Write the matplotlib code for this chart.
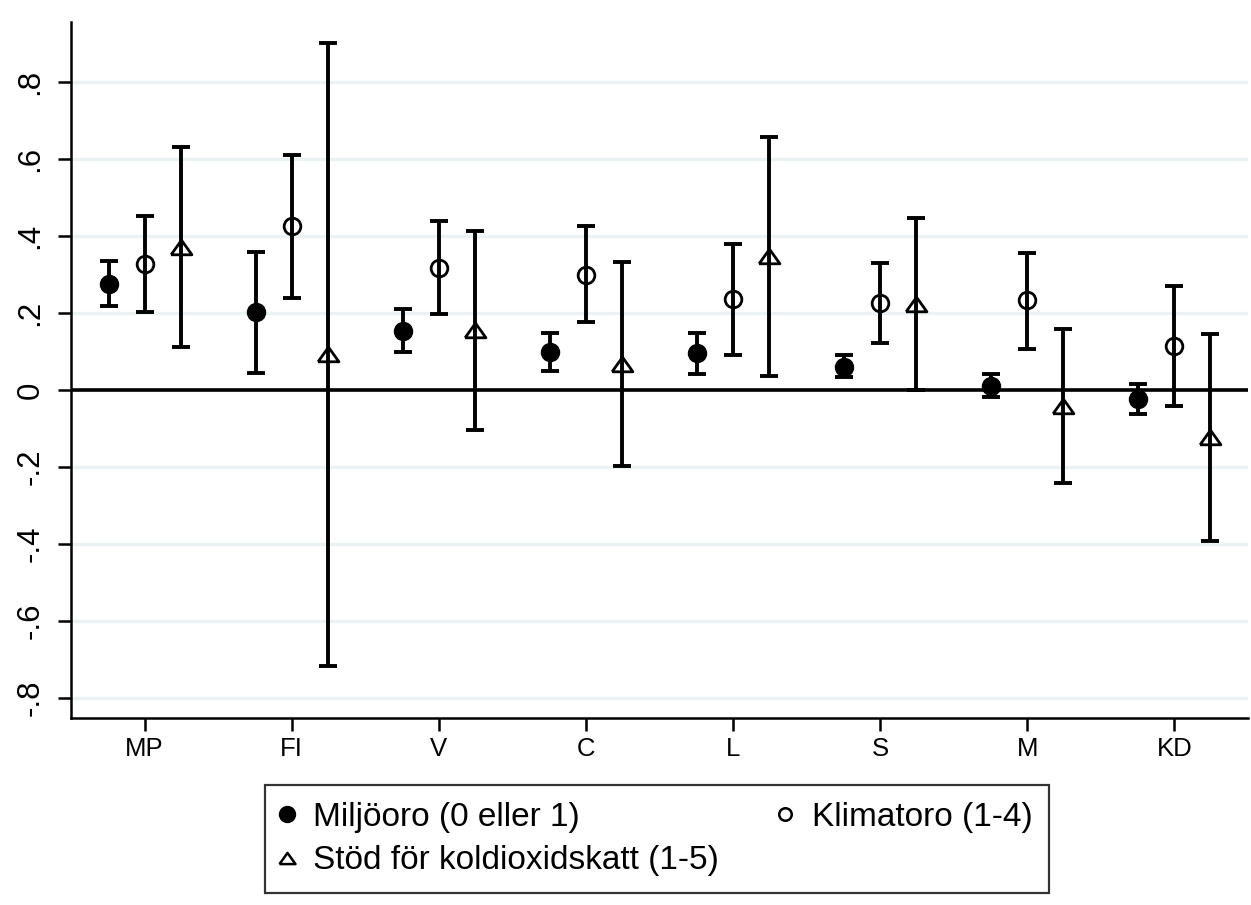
import matplotlib
matplotlib.use("Agg")
import matplotlib.pyplot as plt
import numpy as np
from matplotlib.lines import Line2D

plt.rcParams['font.family'] = ['Liberation Sans', 'DejaVu Sans']

parties = ['MP', 'FI', 'V', 'C', 'L', 'S', 'M', 'KD']

miljo_est = [0.276, 0.202, 0.153, 0.098, 0.095, 0.061, 0.011, -0.023]
miljo_lo = [0.217, 0.045, 0.100, 0.050, 0.042, 0.034, -0.017, -0.061]
miljo_hi = [0.334, 0.359, 0.210, 0.147, 0.148, 0.092, 0.041, 0.015]

klimat_est = [0.328, 0.426, 0.318, 0.300, 0.236, 0.227, 0.233, 0.114]
klimat_lo = [0.203, 0.240, 0.197, 0.177, 0.092, 0.123, 0.107, -0.042]
klimat_hi = [0.452, 0.611, 0.440, 0.426, 0.379, 0.330, 0.357, 0.270]

skatt_est = [0.372, 0.093, 0.155, 0.068, 0.348, 0.224, -0.041, -0.123]
skatt_lo = [0.112, -0.716, -0.104, -0.197, 0.037, 0.000, -0.241, -0.391]
skatt_hi = [0.632, 0.902, 0.414, 0.333, 0.658, 0.448, 0.158, 0.145]

series_labels = ['Miljöoro (0 eller 1)', 'Klimatoro (1-4)', 'Stöd för koldioxidskatt (1-5)']

yticks = [-0.8, -0.6, -0.4, -0.2, 0, 0.2, 0.4, 0.6, 0.8]
ytick_labels = ['-.8', '-.6', '-.4', '-.2', '0', '.2', '.4', '.6', '.8']

# flat-ish triangle like Stata's
tri = [(-1, -0.7), (1, -0.7), (0, 0.7), (-1, -0.7)]

fig = plt.figure(figsize=(12.51, 9.05), dpi=100)
ax = fig.add_axes([0.0568, 0.2066, 0.9408, 0.7691])

x = np.arange(len(parties))
offset = 0.245

series = [
    (x - offset, miljo_est, miljo_lo, miljo_hi, dict(marker='o', markersize=13, markerfacecolor='k', markeredgecolor='k')),
    (x, klimat_est, klimat_lo, klimat_hi, dict(marker='o', markersize=12, markerfacecolor='none', markeredgecolor='k', markeredgewidth=2.0)),
    (x + offset, skatt_est, skatt_lo, skatt_hi, dict(marker=tri, markersize=15, markerfacecolor='none', markeredgecolor='k', markeredgewidth=2.0)),
]

for xs, est, lo, hi, style in series:
    est = np.array(est)
    err = [est - np.array(lo), np.array(hi) - est]
    ax.errorbar(xs, est, yerr=err, fmt='none', ecolor='k', elinewidth=2.8,
                capsize=6.2, capthick=2.8, zorder=3)
    ax.plot(xs, est, linestyle='none', zorder=4, **style)

ax.axhline(0, color='k', lw=2.6, zorder=2)

ax.set_xlim(-0.5, 7.5)
ax.set_ylim(-0.852, 0.956)
ax.set_yticks(yticks)
ax.set_yticklabels(ytick_labels, rotation=90, va='center', fontsize=22.5)
ax.set_xticks(x)
ax.set_xticklabels(parties, fontsize=18.5)

ax.yaxis.grid(True, color='#eaf2f3', lw=2.4, zorder=0)
ax.set_axisbelow(True)

for s in ['top', 'right']:
    ax.spines[s].set_visible(False)
for s in ['left', 'bottom']:
    ax.spines[s].set_linewidth(1.8)
ax.tick_params(axis='both', direction='out', length=9.5, width=1.8, color='k')
ax.tick_params(axis='y', pad=9)
ax.tick_params(axis='x', pad=4)

handles = [
    Line2D([], [], linestyle='none', marker='o', markersize=11.5, markerfacecolor='k', markeredgecolor='k'),
    Line2D([], [], linestyle='none', marker=tri, markersize=11.5, markerfacecolor='none', markeredgecolor='k', markeredgewidth=1.8),
    Line2D([], [], linestyle='none', marker='o', markersize=9, markerfacecolor='none', markeredgecolor='k', markeredgewidth=1.8),
]
labels = [series_labels[0], series_labels[2], series_labels[1]]
leg = fig.legend(handles, labels, ncol=2, loc='upper left',
                 bbox_to_anchor=(0.2118, 0.1326),
                 borderaxespad=0, fontsize=24, frameon=True, fancybox=False,
                 edgecolor='k', handlelength=0.3, handletextpad=0.65,
                 borderpad=0.5, labelspacing=0.38, columnspacing=1.82)
leg.get_frame().set_linewidth(1.6)

fig.savefig('out.png', dpi=100)
